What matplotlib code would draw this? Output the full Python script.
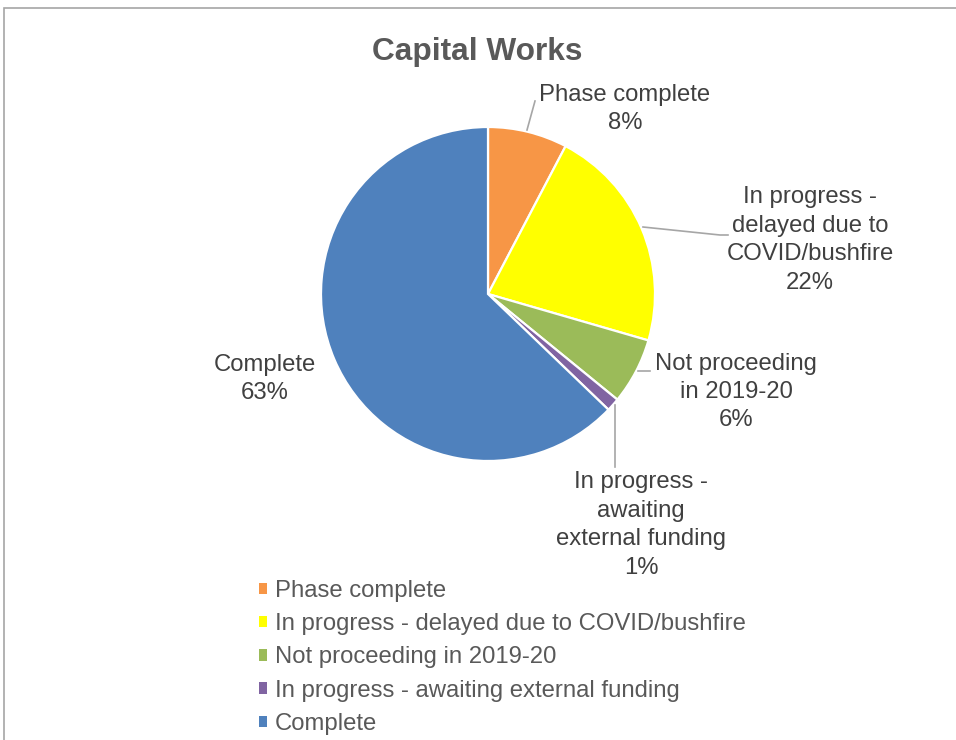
import matplotlib
matplotlib.use("Agg")
import matplotlib.pyplot as plt
from matplotlib.patches import Rectangle

plt.rcParams['font.family'] = ['Liberation Sans', 'DejaVu Sans']

categories = ["Phase complete", "In progress - delayed due to COVID/bushfire",
              "Not proceeding in 2019-20", "In progress - awaiting external funding",
              "Complete"]
label_texts = ["Phase complete\n8%", "In progress -\ndelayed due to\nCOVID/bushfire\n22%",
               "Not proceeding\nin 2019-20\n6%", "In progress -\nawaiting\nexternal funding\n1%",
               "Complete\n63%"]
counts = [6, 17, 5, 1, 49]
colors = ["#F79646", "#FFFF00", "#9BBB59", "#8064A2", "#4F81BD"]

W, H = 956, 740
fig = plt.figure(figsize=(W / 100, H / 100), dpi=100)
ax = fig.add_axes([0, 0, 1, 1])

def Y(yp):
    return H - yp

cx, cy, r = 488, Y(294), 167
wedges, _ = ax.pie(counts, startangle=90, counterclock=False, center=(cx, cy), radius=r,
                   colors=colors, wedgeprops=dict(edgecolor="white", linewidth=1.6),
                   frame=True)
ax.set_xlim(0, W)
ax.set_ylim(0, H)
ax.axis('off')

# frame
ax.add_patch(Rectangle((4.5, Y(W)), W, H - 8 + (W - H), fill=False, edgecolor="#A6A6A6", lw=1.2))

txtc = "#404040"
fs = 17.2
pos = [(625, 109), (810, 240), (736, 392), (641, 525), (265, 379)]
for t, (x, y) in zip(label_texts, pos):
    ax.text(x, Y(y), t, ha='center', va='center', fontsize=fs, color=txtc, linespacing=1.38)

lc = "#A6A6A6"
leaders = [
    [(527, 130), (535, 101)],
    [(643, 227), (720, 235), (728, 235)],
    [(638, 371), (650, 371)],
    [(615, 405), (615, 467)],
]
for seg in leaders:
    xs = [p[0] for p in seg]
    ys = [Y(p[1]) for p in seg]
    ax.plot(xs, ys, color=lc, lw=1.2)

ax.text(477, Y(52), "Capital Works", ha='center', va='center', fontsize=22.8,
        fontweight='bold', color="#595959")

leg = ax.legend(wedges, categories, loc='upper left', bbox_to_anchor=(259 / W, 1 - 580 / H),
                frameon=False, fontsize=fs, handlelength=0.35, handleheight=0.35,
                handletextpad=0.3, labelspacing=0.47, borderaxespad=0, borderpad=0)
for t in leg.get_texts():
    t.set_color("#595959")
for h in leg.legend_handles:
    h.set_linewidth(0)

fig.savefig("out.png", dpi=100)
